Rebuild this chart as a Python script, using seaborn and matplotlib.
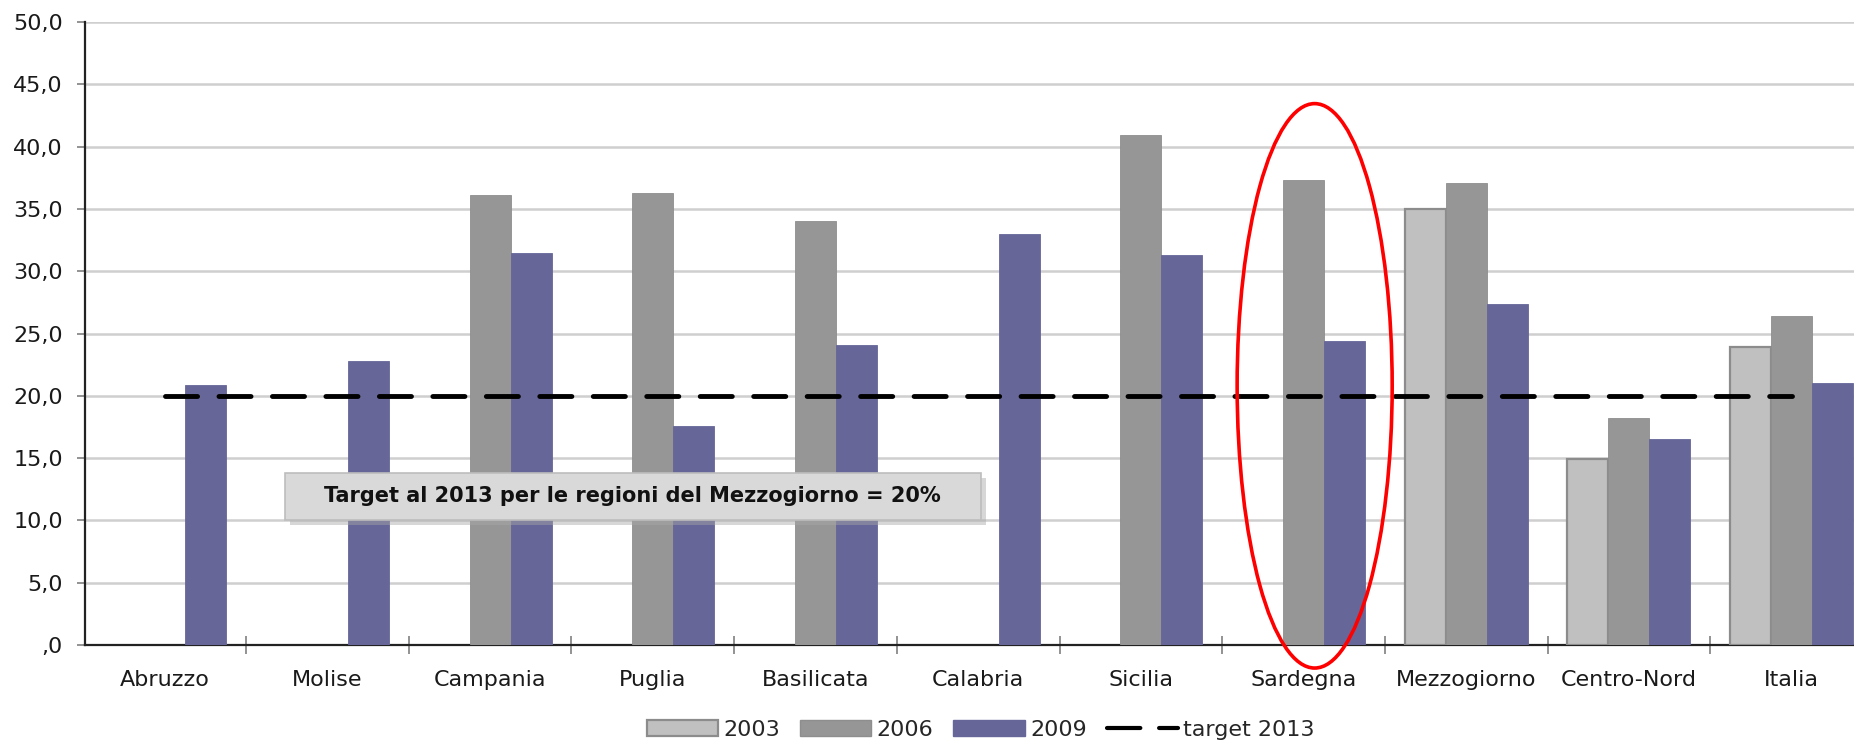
import numpy as np
import pandas as pd
import matplotlib
matplotlib.use("Agg")
import matplotlib.pyplot as plt
import seaborn as sns
from matplotlib.patches import Ellipse, Rectangle, Patch
from matplotlib.lines import Line2D

categories = ["Abruzzo", "Molise", "Campania", "Puglia", "Basilicata", "Calabria",
              "Sicilia", "Sardegna", "Mezzogiorno", "Centro-Nord", "Italia"]
v2003 = [np.nan, np.nan, np.nan, np.nan, np.nan, np.nan, np.nan, np.nan, 35.0, 14.9, 23.9]
v2006 = [np.nan, np.nan, 36.1, 36.3, 34.0, np.nan, 40.9, 37.3, 37.1, 18.2, 26.4]
v2009 = [20.9, 22.8, 31.5, 17.6, 24.1, 33.0, 31.3, 24.4, 27.4, 16.5, 21.0]
target = 20.0
years = ["2003", "2006", "2009"]
ytick_vals = [0, 5, 10, 15, 20, 25, 30, 35, 40, 45, 50]
ytick_labels = [",0", "5,0", "10,0", "15,0", "20,0", "25,0", "30,0", "35,0", "40,0", "45,0", "50,0"]
note = "Target al 2013 per le regioni del Mezzogiorno = 20%"

df = pd.DataFrame({
    "regione": categories * 3,
    "anno": ["2003"] * 11 + ["2006"] * 11 + ["2009"] * 11,
    "valore": v2003 + v2006 + v2009,
})

sns.set_theme(style="white")
plt.rcParams["font.family"] = ["DejaVu Sans"]

fig = plt.figure(figsize=(18.54, 7.46), dpi=100)
ax = fig.add_axes([85 / 1854, 1 - 645 / 746, 1 - 85 / 1854, (645 - 22) / 746])

colors = {"2003": "#C0C0C0", "2006": "#969696", "2009": "#666699"}
edges = {"2003": "#8C8C8C", "2006": "#8E8E8E", "2009": "#666699"}

sns.barplot(data=df, x="regione", y="valore", hue="anno", order=categories,
            hue_order=years, palette=colors, width=0.756, gap=0.0,
            saturation=1, ax=ax, legend=False, zorder=3)

for cont, yr in zip(ax.containers, years):
    for p in cont.patches:
        p.set_edgecolor(edges[yr])
        p.set_linewidth(1.6 if yr == "2003" else 0.6)

# target line
ax.plot([0, len(categories) - 1], [target, target], color="black", lw=3.5,
        linestyle=(0, (6.6, 4.4)), dash_capstyle="round", zorder=4)

ax.set_yticks(ytick_vals)
ax.set_yticklabels(ytick_labels, fontsize=16, color="#1a1a1a")
ax.yaxis.grid(True, color="#CFCFCF", lw=1.8, zorder=0)
ax.set_axisbelow(True)
ax.set_xlabel("")
ax.set_ylabel("")

ax.set_xticks(np.arange(len(categories)))
ax.set_xticklabels(categories)
ax.set_xticks(np.arange(len(categories) - 1) + 0.5, minor=True)
ax.tick_params(axis="x", which="major", labelsize=16, colors="#1a1a1a", length=0, pad=18)
ax.tick_params(axis="x", which="minor", bottom=True, length=13, width=1.2,
               color="#808080", direction="inout")
ax.tick_params(axis="y", left=True, length=6, width=1.2, color="#808080", pad=10)

ax.set_xlim(-0.49, 10.383)
ax.set_ylim(0, 50)

for s in ["top", "right"]:
    ax.spines[s].set_visible(False)
ax.spines["left"].set_color("#222222")
ax.spines["left"].set_linewidth(1.6)
ax.spines["bottom"].set_color("#222222")
ax.spines["bottom"].set_linewidth(1.6)

# annotation box with shadow
ax.add_patch(Rectangle((0.77, 9.6), 4.275, 3.77, fc="#A8A8A8", ec="none",
                       alpha=0.45, zorder=5))
ax.add_patch(Rectangle((0.738, 10.03), 4.277, 3.77, fc="#D9D9D9", ec="#BDBDBD",
                       lw=1.2, zorder=6))
ax.text(2.876, 11.92, note, fontsize=15, fontweight="bold", ha="center", va="center",
        color="#111111", zorder=7)

# red ellipse
ell = Ellipse((7.068, 20.8), width=0.953, height=45.3, fill=False, ec="red", lw=2.6,
              zorder=8, clip_on=False)
ax.add_patch(ell)

handles = [Patch(fc=colors["2003"], ec="#8C8C8C", lw=1.6, label="2003"),
           Patch(fc=colors["2006"], ec="#8E8E8E", lw=1.0, label="2006"),
           Patch(fc=colors["2009"], ec="#666699", lw=1.0, label="2009"),
           Line2D([0], [0], color="black", lw=3.0, linestyle=(0, (8.0, 4.5)),
                  dash_capstyle="round", label="target 2013")]
fig.legend(handles=handles, loc="center", bbox_to_anchor=(0.529, 1 - 730 / 746), ncol=4,
           frameon=False, fontsize=16, handlelength=3.2, handleheight=0.7,
           columnspacing=0.9, handletextpad=0.25)

fig.savefig("out.png", dpi=100)
